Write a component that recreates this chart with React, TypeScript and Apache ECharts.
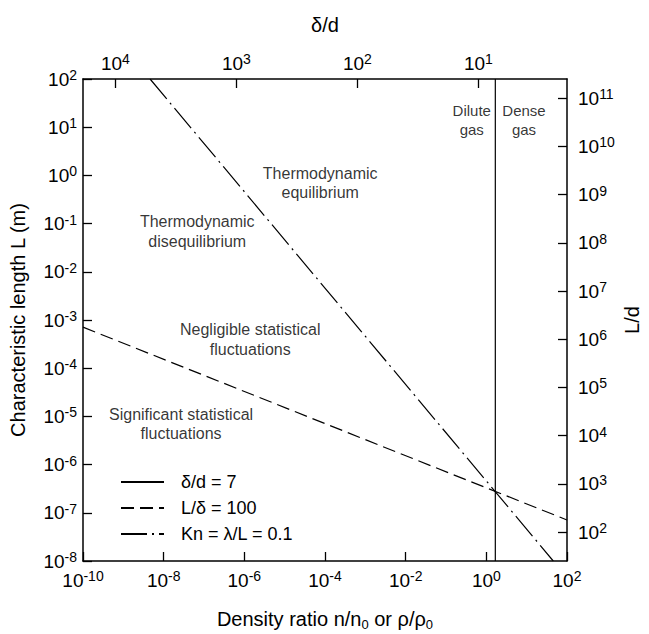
import React, { useEffect, useRef } from "react";
import * as echarts from "echarts";

const FONT = '"Liberation Sans", Arial, Helvetica, sans-serif';

// Series data (real values; plotted on log10 value axes)
const diluteDensity = [1.67, 1.67];
const diluteLength = [1e-8, 1e2];
const lDeltaDensity = [1e-10, 1e2];
const lDeltaLength = [7.1e-4, 7.1e-8];
const knDensity = [4.6e-9, 45.7];
const knLength = [1e2, 1e-8];

const seriesNames = ["δ/d = 7", "L/δ = 100", "Kn = λ/L = 0.1"];

// Axis tick exponents
const bottomExps = [-10, -8, -6, -4, -2, 0, 2];
const leftExps = [-8, -7, -6, -5, -4, -3, -2, -1, 0, 1, 2];
const topExps = [4, 3, 2, 1]; // δ/d
const rightExps = [2, 3, 4, 5, 6, 7, 8, 9, 10, 11]; // L/d

// Conversion constants: δ/d = C · (n/n0)^(-1/3),  L/d with molecular diameter d
const LOG_C = 0.935;
const LOG_D = -9.4;

// Region annotations (density ratio, length)
const annoNames = [
  "Thermodynamic\nequilibrium",
  "Thermodynamic\ndisequilibrium",
  "Negligible statistical\nfluctuations",
  "Significant statistical\nfluctuations",
];
const annoDensity = [7.6e-5, 6.8e-8, 1.4e-6, 2.7e-8];
const annoLength = [0.69, 0.068, 3.9e-4, 6.9e-6];
const gasNames = ["Dilute\ngas", "Dense\ngas"];
const gasDensity = [0.435, 8.6];
const gasLength = [14, 14];

const lg = (v: number) => Math.log10(v);
const pts = (xs: number[], ys: number[]) => xs.map((x, i) => [lg(x), lg(ys[i])]);

const supRich = {
  b: { fontSize: 19, lineHeight: 22, fontFamily: FONT, color: "#000" },
  s: { fontSize: 14, lineHeight: 14, verticalAlign: "top", fontFamily: FONT, color: "#000" },
};
const titleRich = {
  a: { fontSize: 20, lineHeight: 24, fontFamily: FONT, color: "#000" },
  sub: { fontSize: 13, lineHeight: 13, verticalAlign: "bottom", fontFamily: FONT, color: "#000" },
};

const axisLine = { show: true, onZero: false, lineStyle: { color: "#000", width: 1.5 } };
const axisTick = (vals?: number[]) => ({
  show: true,
  inside: true,
  length: 9,
  lineStyle: { color: "#000", width: 1.3 },
  ...(vals ? { customValues: vals } : {}),
});
const sup = (e: number | string) => `{b|10}{s|${e}}`;

export default function App() {
  const ref = useRef<HTMLDivElement>(null);
  useEffect(() => {
    if (!ref.current) return;
    const chart = echarts.init(ref.current, undefined, { renderer: "svg" });
    const topVals = topExps.map((k) => 3 * (LOG_C - k));
    const rightVals = rightExps.map((k) => k + LOG_D);
    chart.setOption({
      animation: false,
      backgroundColor: "#fff",
      textStyle: { fontFamily: FONT, color: "#000" },
      grid: { left: 83, right: 82, top: 79, bottom: 73, containLabel: false, outerBoundsMode: "none" },
      legend: {
        data: seriesNames,
        orient: "vertical",
        left: 115,
        top: 467,
        itemWidth: 43,
        itemHeight: 14,
        itemGap: 6,
        itemStyle: { opacity: 0 },
        textStyle: { fontSize: 18, lineHeight: 20, fontFamily: FONT, color: "#000", padding: [0, 0, 0, 12] },
        inactiveColor: "#000",
        selectedMode: false,
      },
      xAxis: [
        {
          type: "value",
          position: "bottom",
          min: bottomExps[0],
          max: bottomExps[bottomExps.length - 1],
          interval: 2,
          name: "{a|Density ratio n/n}{sub|0}{a| or ρ/ρ}{sub|0}",
          nameLocation: "middle",
          nameGap: 46,
          nameMoveOverlap: false,
          nameTextStyle: { rich: titleRich },
          axisLine,
          axisTick: axisTick(),
          splitLine: { show: false },
          axisLabel: { margin: 8, formatter: (v: number) => sup(v), rich: supRich },
        },
        {
          type: "value",
          position: "top",
          min: bottomExps[0],
          max: bottomExps[bottomExps.length - 1],
          name: "{a|δ/d}",
          nameLocation: "middle",
          nameGap: 42,
          nameMoveOverlap: false,
          nameTextStyle: { rich: titleRich },
          axisLine,
          axisTick: axisTick(topVals),
          splitLine: { show: false },
          axisLabel: {
            margin: 5,
            customValues: topVals,
            formatter: (v: number) => sup(Math.round(LOG_C - v / 3)),
            rich: supRich,
          },
        },
      ],
      yAxis: [
        {
          type: "value",
          position: "left",
          min: leftExps[0],
          max: leftExps[leftExps.length - 1],
          interval: 1,
          name: "{a|Characteristic length L (m)}",
          nameLocation: "middle",
          nameGap: 53,
          nameRotate: 90,
          nameMoveOverlap: false,
          nameTextStyle: { rich: titleRich },
          axisLine,
          axisTick: axisTick(),
          splitLine: { show: false },
          axisLabel: { margin: 6, formatter: (v: number) => sup(v), rich: supRich },
        },
        {
          type: "value",
          position: "right",
          min: leftExps[0],
          max: leftExps[leftExps.length - 1],
          name: "{a|L/d}",
          nameLocation: "middle",
          nameGap: 53,
          nameRotate: 90,
          nameMoveOverlap: false,
          nameTextStyle: { rich: titleRich },
          axisLine,
          axisTick: axisTick(rightVals),
          splitLine: { show: false },
          axisLabel: {
            margin: 11,
            customValues: rightVals,
            formatter: (v: number) => sup(Math.round(v - LOG_D)),
            rich: supRich,
          },
        },
      ],
      series: [
        {
          name: seriesNames[0],
          type: "line",
          symbol: "none",
          data: pts(diluteDensity, diluteLength),
          lineStyle: { color: "#000", width: 1.2, type: "solid" },
          itemStyle: { color: "#000" },
        },
        {
          name: seriesNames[1],
          type: "line",
          symbol: "none",
          data: pts(lDeltaDensity, lDeltaLength),
          lineStyle: { color: "#000", width: 1.2, type: [13, 6] },
          itemStyle: { color: "#000" },
        },
        {
          name: seriesNames[2],
          type: "line",
          symbol: "none",
          data: pts(knDensity, knLength),
          lineStyle: { color: "#000", width: 1.2, type: [26, 5, 2, 5] },
          itemStyle: { color: "#000" },
        },
        {
          name: "regions",
          type: "scatter",
          silent: true,
          symbolSize: 1,
          itemStyle: { color: "rgba(0,0,0,0)" },
          label: {
            show: true,
            position: "inside",
            formatter: "{b}",
            fontSize: 16,
            lineHeight: 19.5,
            fontFamily: FONT,
            color: "#000",
            align: "center",
          },
          data: annoNames.map((n, i) => ({ name: n, value: [lg(annoDensity[i]), lg(annoLength[i])] })),
        },
        {
          name: "gas",
          type: "scatter",
          silent: true,
          symbolSize: 1,
          itemStyle: { color: "rgba(0,0,0,0)" },
          label: {
            show: true,
            position: "inside",
            formatter: "{b}",
            fontSize: 15,
            lineHeight: 19,
            fontFamily: FONT,
            color: "#000",
            align: "center",
          },
          data: gasNames.map((n, i) => ({ name: n, value: [lg(gasDensity[i]), lg(gasLength[i])] })),
        },
      ],
    });
    return () => chart.dispose();
  }, []);
  return (
    <div
      ref={ref}
      style={{ position: "fixed", left: 0, top: 0, width: 649, height: 634, background: "#fff" }}
    />
  );
}
